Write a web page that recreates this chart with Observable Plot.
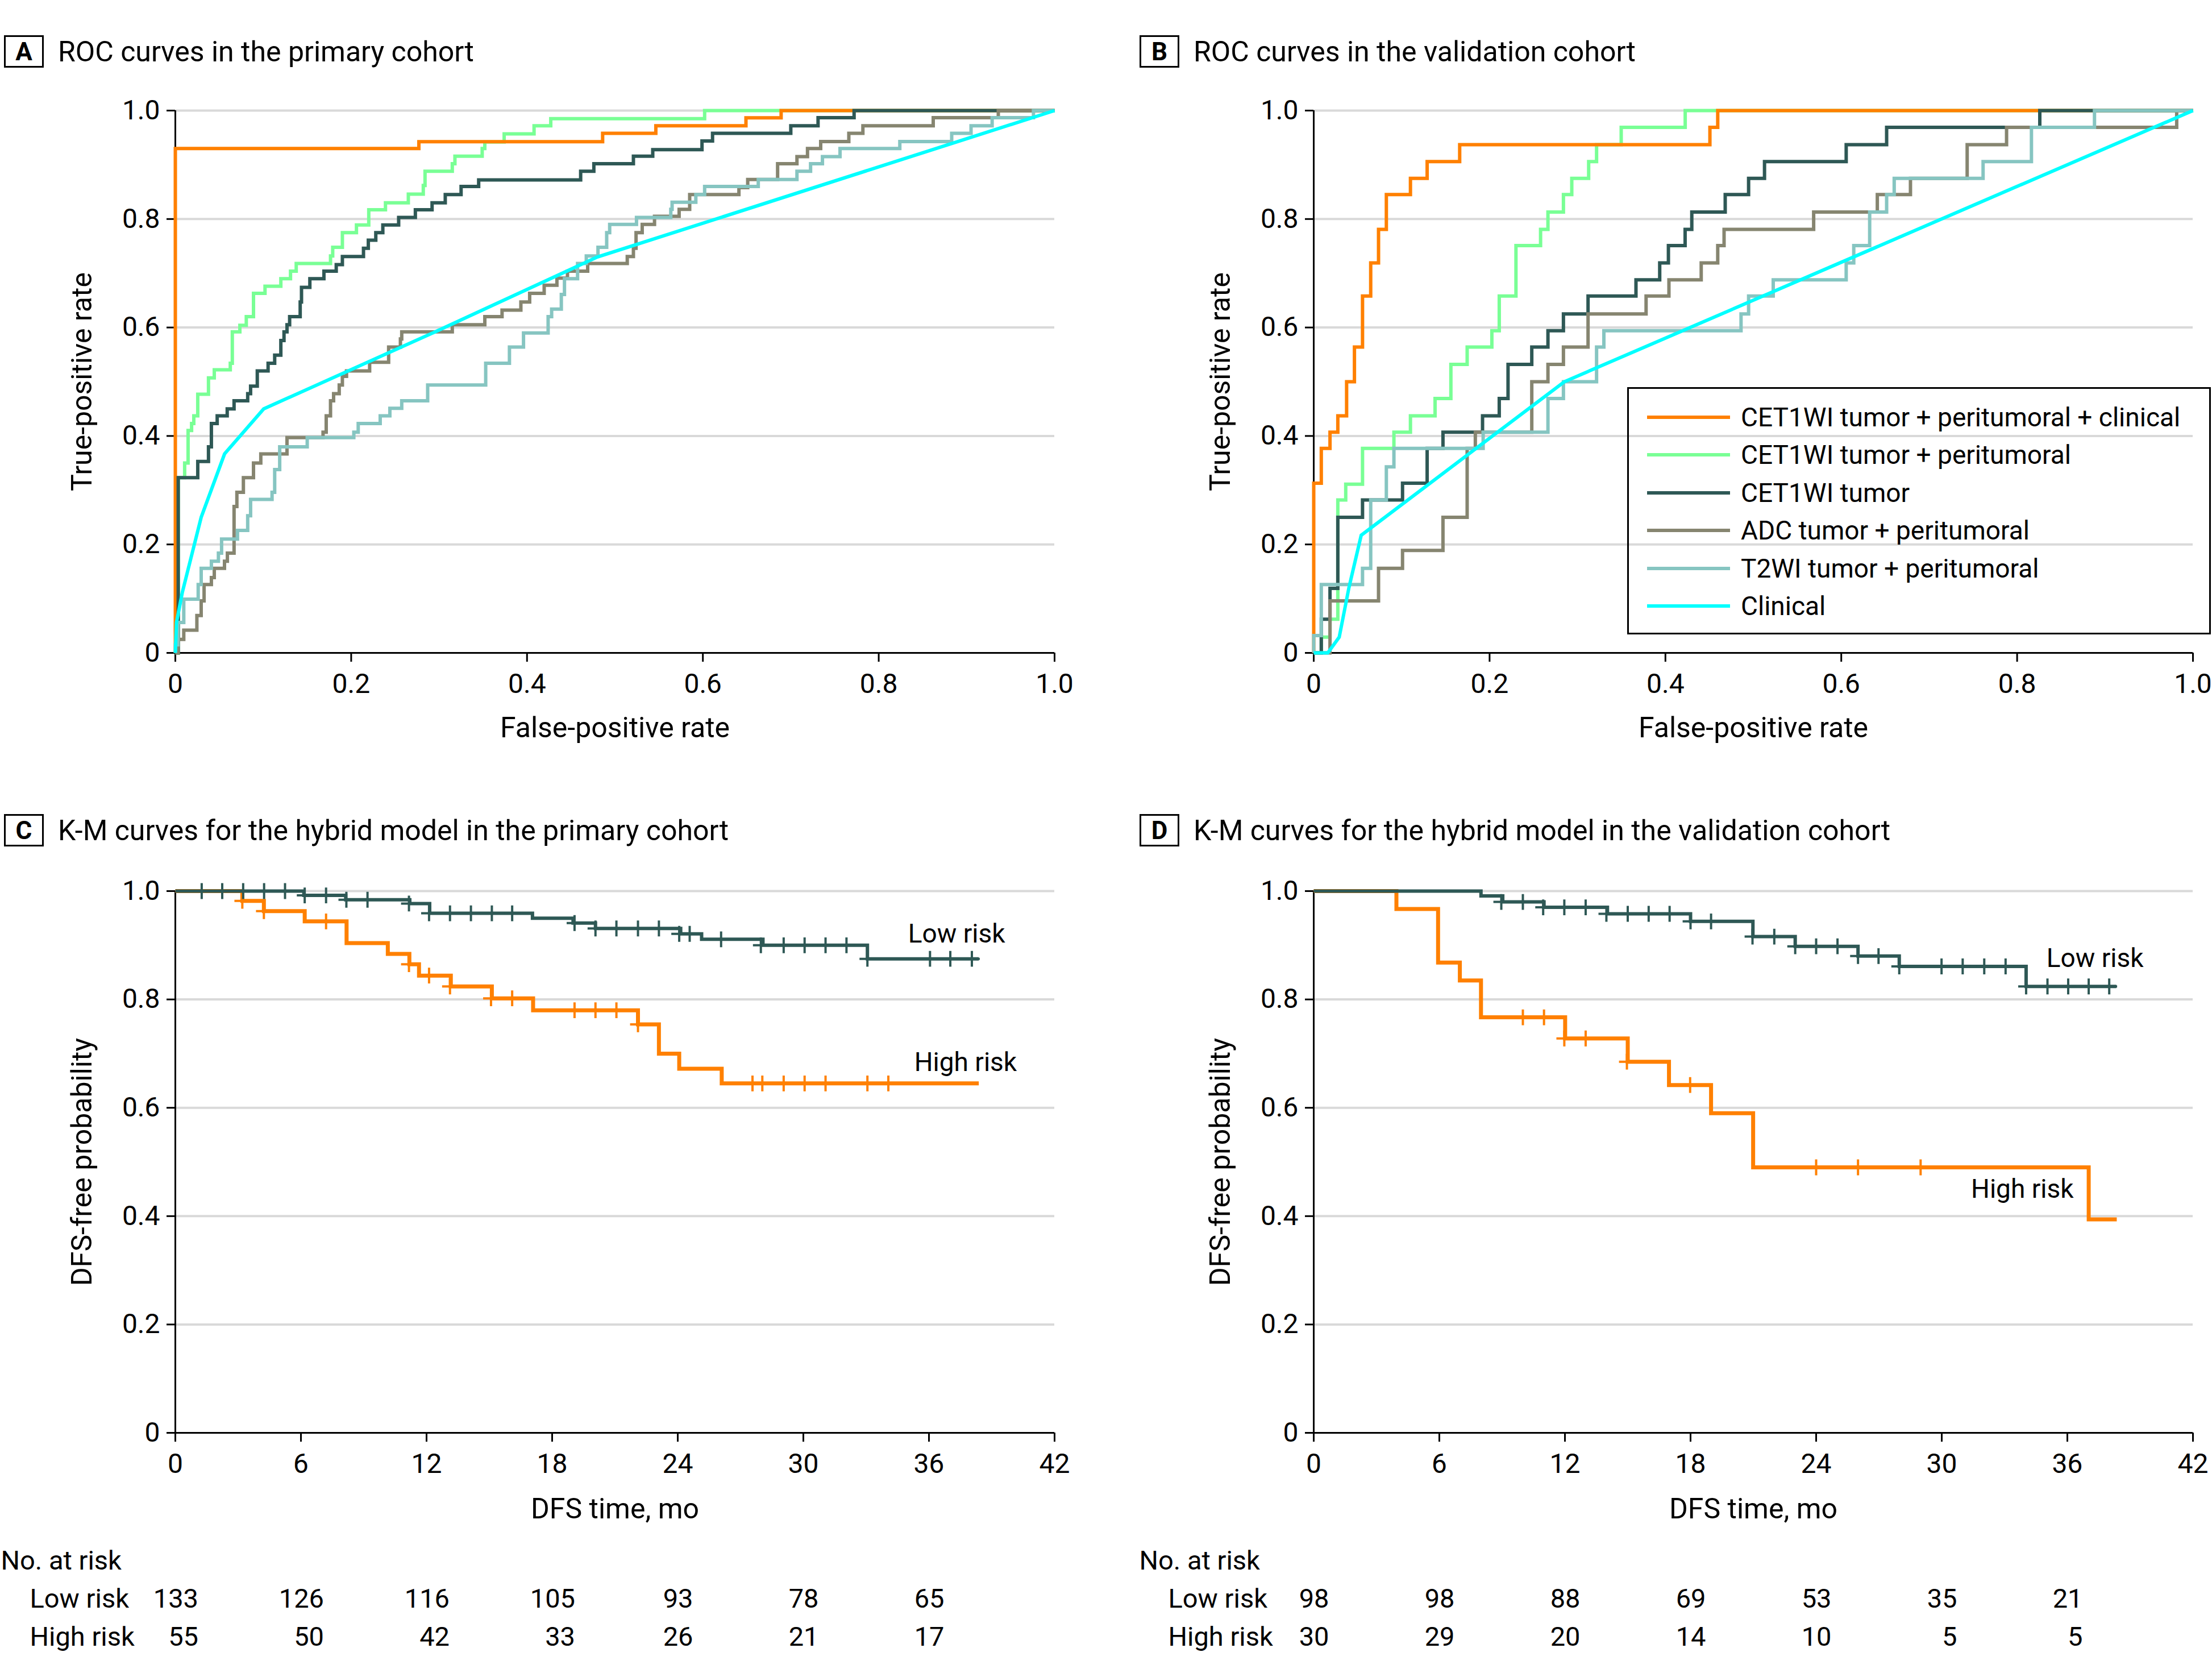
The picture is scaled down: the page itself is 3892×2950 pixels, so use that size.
<!DOCTYPE html>
<html><head><meta charset="utf-8">
<script src="https://cdn.jsdelivr.net/npm/d3@7"></script>
<script src="https://cdn.jsdelivr.net/npm/@observablehq/plot@0.6"></script>
<style>
html,body{margin:0;padding:0;background:#fff;}
#page{position:relative;width:3892px;height:2950px;background:#fff;font-family:Roboto,'Liberation Sans',Arial,sans-serif;color:#000;overflow:hidden;}
.slot{position:absolute;}
.tag{position:absolute;width:64px;height:51px;border:3px solid #000;font-weight:700;font-size:44px;display:flex;align-items:center;justify-content:center;line-height:1;}
.ttl{position:absolute;font-size:50px;line-height:1;transform:translateY(-50%);white-space:nowrap;}
#legend{position:absolute;left:2863px;top:681px;width:1021px;height:429px;border:3px solid #000;}
.lrow{position:absolute;left:0;height:66px;display:flex;align-items:center;font-size:46px;white-space:nowrap;}
.sw{display:inline-block;width:146px;height:0;border-top:6px solid;margin-left:32px;margin-right:19px;}
</style></head>
<body><div id="page"></div>
<script>
// ---------------- DATA ----------------
const rocTicks = [0, 0.2, 0.4, 0.6, 0.8, 1.0];
const kmTicksX = [0, 6, 12, 18, 24, 30, 36, 42];
const kmTicksY = [0, 0.2, 0.4, 0.6, 0.8, 1.0];

const seriesNames = ["CET1WI tumor + peritumoral + clinical","CET1WI tumor + peritumoral","CET1WI tumor","ADC tumor + peritumoral","T2WI tumor + peritumoral","Clinical"];
const seriesColors = ["#FF8000","#79FF95","#2E5855","#868570","#86C5C1","#00FFFF"];

// Panel A (primary cohort) ROC corners [FPR, TPR]
const rocA_hybrid = [[0,0],[0,0.93],[0.277,0.9425],[0.486,0.958],[0.5465,0.972],[0.649,0.9866],[0.689,1],[1,1]];
const rocA_tp = [[0,0],[0.0033,0.323],[0.0106,0.35],[0.0145,0.41],[0.0185,0.423],[0.021,0.437],[0.0255,0.477],[0.0377,0.507],[0.0443,0.522],[0.0625,0.534],[0.0648,0.592],[0.0734,0.604],[0.0807,0.62],[0.0889,0.663],[0.102,0.676],[0.12,0.69],[0.131,0.704],[0.1375,0.718],[0.1765,0.732],[0.179,0.748],[0.19,0.775],[0.206,0.789],[0.22,0.817],[0.239,0.83],[0.265,0.846],[0.282,0.862],[0.284,0.888],[0.315,0.902],[0.318,0.916],[0.349,0.93],[0.352,0.942],[0.374,0.957],[0.408,0.972],[0.427,0.985],[0.602,1],[1,1]];
const rocA_tumor = [[0,0],[0.0033,0.323],[0.0255,0.353],[0.0377,0.38],[0.041,0.423],[0.0476,0.437],[0.059,0.45],[0.0668,0.465],[0.0823,0.478],[0.0856,0.492],[0.0932,0.52],[0.1055,0.534],[0.113,0.549],[0.12,0.576],[0.1236,0.592],[0.127,0.605],[0.13,0.62],[0.142,0.647],[0.1435,0.674],[0.153,0.69],[0.169,0.704],[0.183,0.716],[0.19,0.731],[0.214,0.746],[0.2195,0.761],[0.228,0.775],[0.236,0.789],[0.254,0.803],[0.273,0.817],[0.292,0.83],[0.307,0.845],[0.325,0.86],[0.345,0.872],[0.461,0.888],[0.476,0.902],[0.521,0.916],[0.543,0.928],[0.599,0.944],[0.611,0.958],[0.70,0.972],[0.731,0.987],[0.772,1],[1,1]];
const rocA_adc = [[0,0],[0.003,0.025],[0.0096,0.042],[0.0245,0.069],[0.0294,0.096],[0.0327,0.126],[0.041,0.139],[0.0443,0.156],[0.0559,0.169],[0.0592,0.184],[0.0668,0.27],[0.07,0.296],[0.0774,0.323],[0.0889,0.35],[0.0972,0.367],[0.127,0.397],[0.168,0.407],[0.1716,0.437],[0.1765,0.465],[0.18,0.478],[0.1864,0.494],[0.19,0.51],[0.1947,0.52],[0.221,0.536],[0.2426,0.564],[0.256,0.579],[0.2575,0.592],[0.315,0.605],[0.352,0.62],[0.3716,0.632],[0.393,0.647],[0.403,0.663],[0.4195,0.678],[0.434,0.691],[0.446,0.704],[0.469,0.718],[0.514,0.731],[0.521,0.746],[0.524,0.775],[0.531,0.79],[0.545,0.805],[0.573,0.818],[0.585,0.845],[0.641,0.858],[0.651,0.873],[0.685,0.902],[0.707,0.915],[0.719,0.93],[0.734,0.943],[0.766,0.958],[0.782,0.972],[0.862,0.987],[0.936,1],[1,1]];
const rocA_t2 = [[0,0],[0,0.015],[0.003,0.056],[0.0096,0.099],[0.026,0.126],[0.0294,0.156],[0.041,0.169],[0.049,0.184],[0.0526,0.21],[0.0707,0.226],[0.0823,0.253],[0.0856,0.283],[0.11,0.296],[0.113,0.338],[0.1187,0.38],[0.15,0.397],[0.203,0.407],[0.208,0.423],[0.233,0.437],[0.244,0.451],[0.2575,0.465],[0.287,0.494],[0.353,0.534],[0.38,0.564],[0.396,0.59],[0.424,0.62],[0.428,0.634],[0.439,0.661],[0.4426,0.69],[0.4575,0.718],[0.4674,0.732],[0.4807,0.748],[0.4906,0.775],[0.494,0.79],[0.5245,0.803],[0.5635,0.818],[0.565,0.831],[0.592,0.845],[0.602,0.86],[0.663,0.873],[0.707,0.888],[0.7225,0.902],[0.736,0.915],[0.756,0.93],[0.824,0.943],[0.883,0.958],[0.905,0.972],[0.929,0.987],[0.976,1],[1,1]];
const rocA_clin = [[0,0],[0.0013,0.056],[0.008,0.112],[0.0294,0.25],[0.056,0.367],[0.1005,0.45],[0.2955,0.592],[0.48,0.73],[1,1]];

// Panel B (validation cohort)
const rocB_hybrid = [[0,0],[0,0.313],[0.0086,0.377],[0.0185,0.407],[0.0274,0.437],[0.0374,0.5],[0.0463,0.564],[0.0555,0.658],[0.0648,0.719],[0.0737,0.781],[0.0826,0.845],[0.110,0.875],[0.129,0.906],[0.166,0.937],[0.4506,0.969],[0.4595,1],[1,1]];
const rocB_tp = [[0,0],[0.0086,0.029],[0.0185,0.062],[0.0274,0.282],[0.0364,0.311],[0.0555,0.377],[0.0912,0.407],[0.110,0.437],[0.138,0.469],[0.156,0.532],[0.1745,0.564],[0.2026,0.594],[0.211,0.658],[0.230,0.751],[0.258,0.781],[0.2664,0.813],[0.284,0.845],[0.2935,0.875],[0.3127,0.906],[0.3217,0.937],[0.3497,0.969],[0.4225,1],[1,1]];
const rocB_tumor = [[0,0],[0.0086,0.062],[0.0185,0.119],[0.0274,0.25],[0.0555,0.282],[0.101,0.313],[0.129,0.377],[0.147,0.407],[0.192,0.437],[0.211,0.469],[0.221,0.532],[0.248,0.564],[0.2664,0.594],[0.284,0.625],[0.312,0.658],[0.3665,0.688],[0.3935,0.719],[0.4034,0.751],[0.4224,0.781],[0.430,0.813],[0.468,0.845],[0.4946,0.875],[0.5127,0.906],[0.6056,0.937],[0.6516,0.969],[0.8258,1],[1,1]];
const rocB_adc = [[0,0],[0.0185,0.096],[0.0737,0.156],[0.101,0.189],[0.147,0.25],[0.1745,0.377],[0.1838,0.407],[0.248,0.5],[0.2664,0.532],[0.284,0.564],[0.312,0.625],[0.378,0.658],[0.404,0.688],[0.4407,0.719],[0.4595,0.751],[0.4667,0.781],[0.5686,0.813],[0.641,0.845],[0.6787,0.875],[0.7432,0.937],[0.788,0.969],[0.9815,1],[1,1]];
const rocB_t2 = [[0,0],[0,0.032],[0.0086,0.126],[0.0555,0.156],[0.0648,0.282],[0.0826,0.343],[0.0912,0.377],[0.1927,0.407],[0.2664,0.469],[0.284,0.5],[0.3217,0.564],[0.33,0.594],[0.486,0.625],[0.4946,0.658],[0.5226,0.688],[0.6056,0.719],[0.6142,0.751],[0.6323,0.813],[0.6516,0.845],[0.6602,0.875],[0.7613,0.906],[0.8163,0.969],[0.888,1],[1,1]];
const rocB_clin = [[0,0],[0.016,0],[0.029,0.029],[0.04,0.12],[0.054,0.217],[0.285,0.5],[1,1]];

// Panel C K-M (primary): [month, survival]
const kmC_low = [[0,1],[6.14,0.992],[8.14,0.984],[11.2,0.977],[12.15,0.959],[17.06,0.95],[19.0,0.941],[20.07,0.931],[24.14,0.921],[25.14,0.911],[28.07,0.9],[33.06,0.875],[38.38,0.875]];
const kmC_high = [[0,1],[3.2,0.982],[4.23,0.963],[6.18,0.944],[8.18,0.904],[10.15,0.884],[11.18,0.865],[11.64,0.844],[13.16,0.824],[15.12,0.802],[17.09,0.78],[22.1,0.754],[23.1,0.70],[24.07,0.672],[26.1,0.645],[38.38,0.645]];
const kmC_lowCens = [[1.26,1],[2.24,1],[3.24,1],[4.24,1],[5.24,1],[6.18,0.992],[7.2,0.992],[8.17,0.984],[9.18,0.984],[11.16,0.977],[12.12,0.959],[13.12,0.959],[14.12,0.959],[15.12,0.959],[16.09,0.959],[19.07,0.941],[20.07,0.931],[21.07,0.931],[22.1,0.931],[23.1,0.931],[24.07,0.921],[24.57,0.921],[26.07,0.911],[27.97,0.9],[29.06,0.9],[30.06,0.9],[31.06,0.9],[32.06,0.9],[33.06,0.875],[36.05,0.875],[37.02,0.875],[38.05,0.875]];
const kmC_highCens = [[3.2,0.982],[4.23,0.963],[7.2,0.944],[11.16,0.865],[12.12,0.844],[13.12,0.824],[15.08,0.802],[16.09,0.802],[19.07,0.78],[20.07,0.78],[21.07,0.78],[22.1,0.754],[27.57,0.645],[28.04,0.645],[29.06,0.645],[30.06,0.645],[31.06,0.645],[33.06,0.645],[34.06,0.645]];

// Panel D K-M (validation)
const kmD_low = [[0,1],[7.99,0.991],[9.03,0.98],[11.0,0.97],[14.03,0.958],[18.0,0.944],[20.98,0.916],[23.0,0.898],[26.0,0.88],[27.97,0.861],[34.03,0.824],[38.34,0.824]];
const kmD_high = [[0,1],[3.95,0.967],[5.94,0.868],[6.98,0.835],[7.99,0.767],[12.01,0.728],[15.0,0.685],[16.97,0.642],[18.98,0.59],[20.99,0.49],[37.02,0.394],[38.36,0.394]];
const kmD_lowCens = [[8.96,0.98],[9.99,0.98],[10.96,0.97],[11.97,0.97],[12.99,0.97],[13.98,0.958],[15.0,0.958],[16.0,0.958],[17.0,0.958],[18.0,0.944],[18.98,0.944],[20.96,0.916],[22.0,0.916],[23.0,0.898],[24.0,0.898],[25.02,0.898],[26.0,0.88],[26.98,0.88],[27.97,0.861],[29.99,0.861],[31.0,0.861],[32.03,0.861],[33.05,0.861],[34.03,0.824],[35.05,0.824],[36.04,0.824],[37.02,0.824],[38.0,0.824]];
const kmD_highCens = [[9.99,0.767],[11.0,0.767],[11.97,0.728],[12.99,0.728],[14.96,0.685],[17.98,0.642],[24.0,0.49],[26.0,0.49],[28.99,0.49]];

const kmC_labels = [{t:35.0, s:0.92, label:"Low risk"},{t:35.3, s:0.683, label:"High risk"}];
const kmD_labels = [{t:35.0, s:0.875, label:"Low risk"},{t:31.4, s:0.449, label:"High risk"}];

// Number at risk
const riskTimes = [0, 6, 12, 18, 24, 30, 36];
const riskC_low = [133, 126, 116, 105, 93, 78, 65];
const riskC_high = [55, 50, 42, 33, 26, 21, 17];
const riskD_low = [98, 98, 88, 69, 53, 35, 21];
const riskD_high = [30, 29, 20, 14, 10, 5, 5];

// ---------------- DRAWING ----------------
const FONT = "Roboto, 'Liberation Sans', Arial, sans-serif";
const GRID = "#d9d9d9";
const KM_LOW = "#2E5855", KM_HIGH = "#FF8000";
const DIGIT_HALF = 13.5; // half of one digit's width at 47px
const fmt = d => d === 0 ? "0" : d.toFixed(1);
const page = document.getElementById("page");

function place(node, left, top, w) {
  const div = document.createElement("div");
  div.className = "slot";
  div.style.left = left + "px"; div.style.top = top + "px"; div.style.width = w + "px";
  div.appendChild(node);
  page.appendChild(div);
}
function tag(letter, left, top, title) {
  const t = document.createElement("div");
  t.className = "tag"; t.style.left = left + "px"; t.style.top = top + "px"; t.textContent = letter;
  page.appendChild(t);
  const s = document.createElement("div");
  s.className = "ttl"; s.style.left = (left + 95) + "px"; s.style.top = (top + 29) + "px"; s.textContent = title;
  page.appendChild(s);
}

const lineOpts = {strokeLinejoin: "miter", strokeLinecap: "butt", strokeMiterlimit: 4};

function rocPlot(series, mLeft, mRight) {
  // draw order: green, orange, dark, ADC, T2, clinical
  const order = [1, 0, 2, 3, 4, 5];
  return Plot.plot({
    width: 1946, height: 1400,
    marginLeft: mLeft, marginRight: mRight, marginTop: 194, marginBottom: 252,
    x: {domain: [0, 1]}, y: {domain: [0, 1]},
    style: {fontFamily: FONT, fontSize: "48px", background: "transparent", color: "#000"},
    marks: [
      Plot.gridY(rocTicks.slice(1), {stroke: GRID, strokeOpacity: 1, strokeWidth: 4}),
      Plot.axisX({ticks: rocTicks, tickFormat: fmt, tickSize: 16, tickPadding: 20, strokeWidth: 3, label: null}),
      Plot.axisY({ticks: rocTicks, tickFormat: fmt, tickSize: 15, tickPadding: 12, strokeWidth: 3, label: null}),
      Plot.ruleX([0], {stroke: "#000", strokeWidth: 3}),
      Plot.ruleY([0], {stroke: "#000", strokeWidth: 3}),
      ...order.map(i => Plot.line(series[i], {x: d => d[0], y: d => d[1], curve: i === 5 ? "linear" : "step-after", stroke: seriesColors[i], strokeWidth: 6, ...lineOpts})),
      Plot.text(["False-positive rate"], {text: d => d, frameAnchor: "bottom", dy: 148, fontSize: 50}),
      Plot.text(["True-positive rate"], {text: d => d, frameAnchor: "left", textAnchor: "middle", dx: -164, rotate: -90, fontSize: 50})
    ]
  });
}

function kmPlot(low, high, lowC, highC, labels, mLeft, mRight) {
  return Plot.plot({
    width: 1946, height: 1300,
    marginLeft: mLeft, marginRight: mRight, marginTop: 167, marginBottom: 180,
    x: {domain: [0, 42]}, y: {domain: [0, 1]},
    style: {fontFamily: FONT, fontSize: "48px", background: "transparent", color: "#000"},
    marks: [
      Plot.gridY(kmTicksY.slice(1), {stroke: GRID, strokeOpacity: 1, strokeWidth: 4}),
      Plot.axisX({ticks: kmTicksX, tickSize: 16, tickPadding: 20, strokeWidth: 3, label: null}),
      Plot.axisY({ticks: kmTicksY, tickFormat: fmt, tickSize: 15, tickPadding: 12, strokeWidth: 3, label: null}),
      Plot.ruleX([0], {stroke: "#000", strokeWidth: 3}),
      Plot.ruleY([0], {stroke: "#000", strokeWidth: 3}),
      Plot.line(high, {x: d => d[0], y: d => d[1], curve: "step-after", stroke: KM_HIGH, strokeWidth: 7, ...lineOpts}),
      Plot.dot(highC, {x: d => d[0], y: d => d[1], symbol: "plus", r: 9, stroke: KM_HIGH, strokeWidth: 4}),
      Plot.line(low, {x: d => d[0], y: d => d[1], curve: "step-after", stroke: KM_LOW, strokeWidth: 6, ...lineOpts}),
      Plot.dot(lowC, {x: d => d[0], y: d => d[1], symbol: "plus", r: 9, stroke: KM_LOW, strokeWidth: 4}),
      Plot.text(labels, {x: "t", y: "s", text: "label", textAnchor: "start", fontSize: 46}),
      Plot.text(["DFS time, mo"], {text: d => d, frameAnchor: "bottom", dy: 150, fontSize: 50}),
      Plot.text(["DFS-free probability"], {text: d => d, frameAnchor: "left", textAnchor: "middle", dx: -164, rotate: -90, fontSize: 50})
    ]
  });
}

function riskPlot(lowN, highN, mLeft, mRight) {
  // numbers: low-risk row centred on the tick; high-risk row right-aligned to it
  const cols = riskTimes.map((t, i) => ({t, low: lowN[i], high: highN[i], half: String(lowN[i]).length * DIGIT_HALF}));
  return Plot.plot({
    width: 1946, height: 250,
    marginLeft: mLeft, marginRight: mRight, marginTop: 0, marginBottom: 0,
    x: {domain: [0, 42], axis: null},
    y: {type: "point", domain: ["No. at risk", "Low risk", "High risk"], range: [45, 179], padding: 0, axis: null},
    style: {fontFamily: FONT, fontSize: "47px", background: "transparent", color: "#000"},
    marks: [
      Plot.text(["No. at risk"], {y: d => d, text: d => d, frameAnchor: "left", textAnchor: "start", dx: -307}),
      Plot.text(["Low risk", "High risk"], {y: d => d, text: d => d, frameAnchor: "left", textAnchor: "start", dx: -256}),
      ...cols.map(c => Plot.text([c], {x: "t", y: () => "Low risk", text: d => String(d.low), textAnchor: "end", dx: c.half})),
      ...cols.map(c => Plot.text([c], {x: "t", y: () => "High risk", text: d => String(d.high), textAnchor: "end", dx: c.half}))
    ]
  });
}

tag("A", 7, 62, "ROC curves in the primary cohort");
tag("B", 2005, 62, "ROC curves in the validation cohort");
tag("C", 7, 1432, "K-M curves for the hybrid model in the primary cohort");
tag("D", 2005, 1432, "K-M curves for the hybrid model in the validation cohort");

place(rocPlot([rocA_hybrid, rocA_tp, rocA_tumor, rocA_adc, rocA_t2, rocA_clin], 308, 91), 0, 0, 1946);
place(rocPlot([rocB_hybrid, rocB_tp, rocB_tumor, rocB_adc, rocB_t2, rocB_clin], 365, 34), 1946, 0, 1946);
place(kmPlot(kmC_low, kmC_high, kmC_lowCens, kmC_highCens, kmC_labels, 308, 91), 0, 1400, 1946);
place(kmPlot(kmD_low, kmD_high, kmD_lowCens, kmD_highCens, kmD_labels, 365, 34), 1946, 1400, 1946);
place(riskPlot(riskC_low, riskC_high, 308, 91), 0, 2700, 1946);
place(riskPlot(riskD_low, riskD_high, 365, 34), 1946, 2700, 1946);

// legend for panel B
const leg = document.createElement("div");
leg.id = "legend";
seriesNames.forEach((name, i) => {
  const row = document.createElement("div");
  row.className = "lrow";
  row.style.top = (17 + i * 66.4) + "px";
  const sw = document.createElement("span");
  sw.className = "sw"; sw.style.borderTopColor = seriesColors[i];
  row.appendChild(sw);
  row.appendChild(document.createTextNode(name));
  leg.appendChild(row);
});
page.appendChild(leg);
</script>
</body></html>
